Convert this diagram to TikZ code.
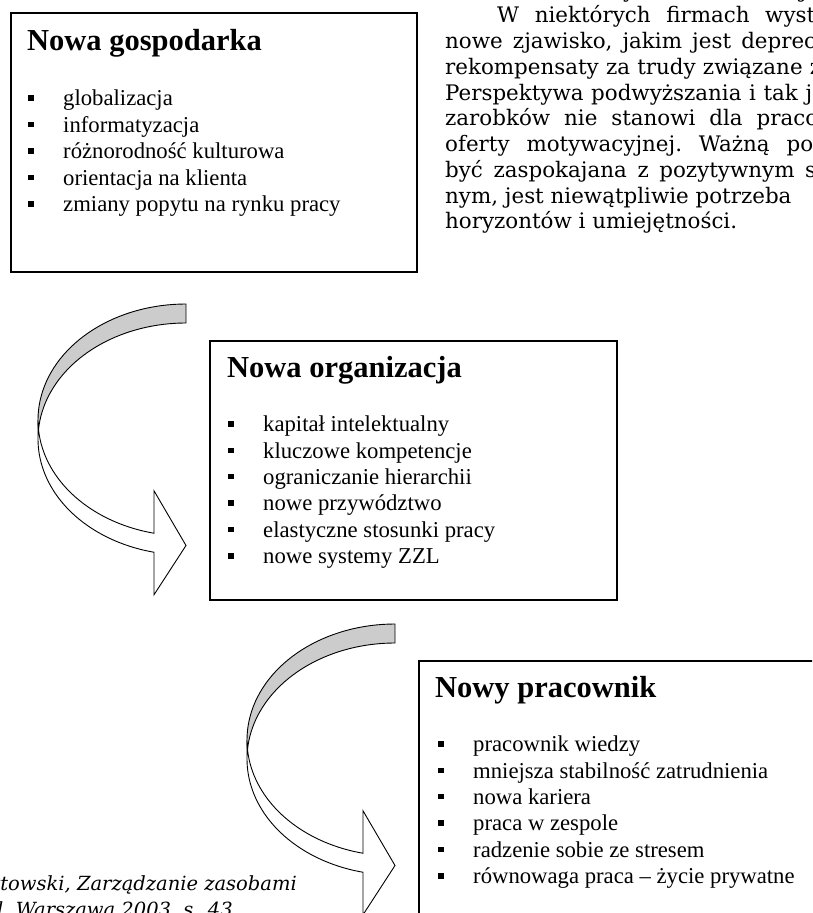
\documentclass[tikz,border=0pt]{standalone}
\usepackage{fontspec}
\setmainfont{Liberation Serif}
\newfontfamily\bodyfont{DejaVu Serif}
\definecolor{arrowgray}{RGB}{204,204,204}
\tikzset{
  box/.style={draw=black, line width=1.3pt},
  boxtitle/.style={anchor=base west, inner sep=0pt, font=\fontsize{30.5}{36}\selectfont\bfseries},
  item/.style={anchor=base west, inner sep=0pt, font=\fontsize{22.7}{26.5}\selectfont},
  body/.style={anchor=base west, inner sep=0pt, font=\bodyfont\frenchspacing\fontsize{21.4}{25.75}\selectfont},
  cite/.style={anchor=base east, inner sep=0pt, font=\bodyfont\itshape\fontsize{19.5}{26}\selectfont},
  arrowline/.style={draw=black, line width=0.9pt, line join=miter},
}
\newcommand\bul{\makebox[35pt][l]{\rule[5pt]{5.5pt}{5.5pt}}}
\newcommand\curvedarr[2]{%
  \begin{scope}[shift={(#1,{913-#2})}]
    \filldraw[arrowline, fill=white]
      plot[domain=180:257.51, samples=40, variable=\q] ({148+148*cos(\q)},{-116+116*sin(\q)})
      -- (116,-186.8) -- (148,-241.5) -- (116,-290.8) -- (116,-248.3)
      -- plot[domain=257.51:180, samples=40, variable=\q] ({148+148*cos(\q)},{-135+116*sin(\q)})
      -- cycle;
    \filldraw[arrowline, fill=arrowgray]
      plot[domain=90:175.3, samples=40, variable=\q] ({148+148*cos(\q)},{-135+116*sin(\q)})
      -- plot[domain=184.7:90, samples=40, variable=\q] ({148+148*cos(\q)},{-116+116*sin(\q)})
      -- cycle;
  \end{scope}}
\begin{document}
\begin{tikzpicture}[x=1pt,y=1pt]
\useasboundingbox (0,0) rectangle (812,913);
\fill[white] (0,0) rectangle (812,913);
\clip (0,0) rectangle (812,913);

% running text (right column)
\node[body] (d1) at (623,915.7) {y};
\node[body] (d2) at (800,915.7) {j};
\node[body] (p1) at (497,890) {\makebox[318pt][s]{W niektórych firmach wyst}};
\node[body] (p2) at (445,864.25) {\makebox[371pt][s]{nowe zjawisko, jakim jest deprec}};
\node[body] (p3) at (445,838.5) {\makebox[376pt][s]{rekompensaty za trudy związane z}};
\node[body] (p4) at (445,812.75) {\makebox[367pt][s]{Perspektywa podwyższania i tak j}};
\node[body] (p5) at (445,787) {\makebox[373pt][s]{zarobków nie stanowi dla praco}};
\node[body] (p6) at (445,761.25) {\makebox[368pt][s]{oferty motywacyjnej. Ważną po}};
\node[body] (p7) at (445,735.5) {\makebox[371pt][s]{być zaspokajana z pozytywnym s}};
\node[body] (p8) at (445,709.75) {nym, jest niewątpliwie potrzeba};
\node[body] (p9) at (445,684) {horyzontów i umiejętności.};

% box 1
\draw[box] (11,900) rectangle (417,641);
\node[boxtitle] (t1) at (27,862) {Nowa gospodarka};
\foreach \txt [count=\i] in {globalizacja, informatyzacja, różnorodność kulturowa, orientacja na klienta, zmiany popytu na rynku pracy}
  \node[item] (a\i) at (28,{807-(\i-1)*26.5}) {\bul\txt};

% box 2
\draw[box] (210,572) rectangle (617,313);
\node[boxtitle] (t2) at (227,535) {Nowa organizacja};
\foreach \txt [count=\i] in {kapitał intelektualny, kluczowe kompetencje, ograniczanie hierarchii, nowe przywództwo, elastyczne stosunki pracy, nowe systemy ZZL}
  \node[item] (b\i) at (228,{481.3-(\i-1)*26.4}) {\bul\txt};

% box 3
\draw[box] (419,252) rectangle (830,-20);
\node[boxtitle] (t3) at (435,215) {Nowy pracownik};
\foreach \txt [count=\i] in {pracownik wiedzy, mniejsza stabilność zatrudnienia, nowa kariera, praca w zespole, radzenie sobie ze stresem, równowaga praca – życie prywatne}
  \node[item] (c\i) at (438,{161.3-(\i-1)*26.4}) {\bul\txt};

% curved arrows
\curvedarr{38}{304}
\curvedarr{247}{624}

% source
\node[cite] (s1) at (297,23) {Pocztowski, Zarządzanie zasobami};
\node[cite] (s2) at (233,-3) {l, Warszawa 2003, s. 43};
\end{tikzpicture}
\end{document}
